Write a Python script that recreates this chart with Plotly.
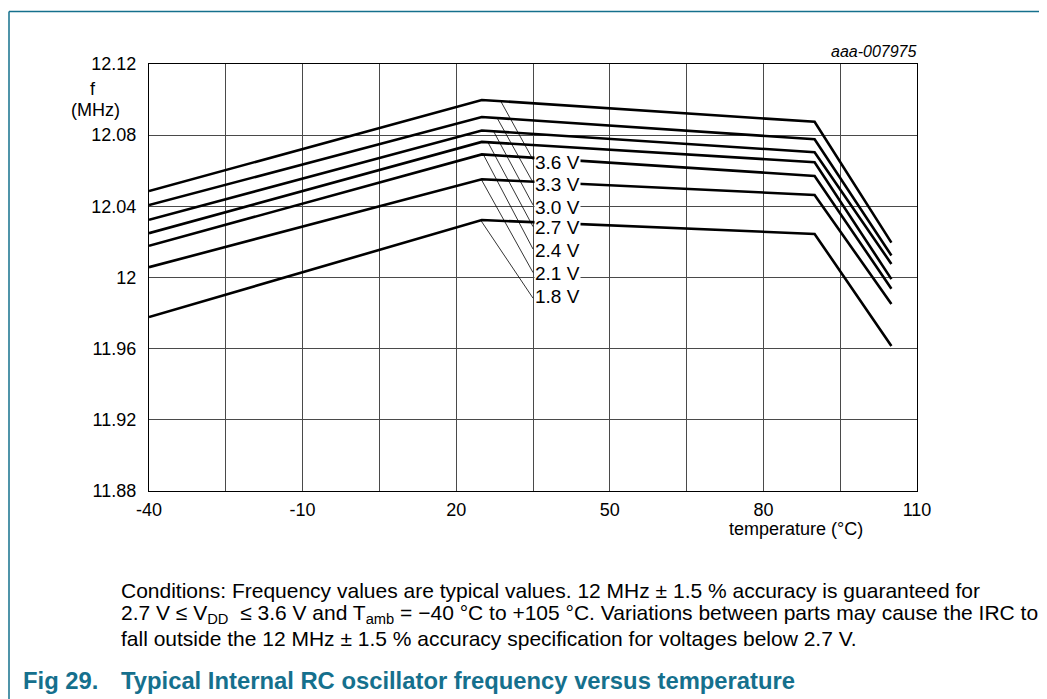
import numpy as np
import plotly.graph_objects as go

# ---------------- data ----------------
temps = [-40, 25, 90, 105]
voltages = ["3.6 V", "3.3 V", "3.0 V", "2.7 V", "2.4 V", "2.1 V", "1.8 V"]
f_36 = [12.0486, 12.0998, 12.0875, 12.0196]
f_33 = [12.0407, 12.0902, 12.0777, 12.0124]
f_30 = [12.0324, 12.0826, 12.0704, 12.0076]
f_27 = [12.0249, 12.0762, 12.0648, 11.9991]
f_24 = [12.0178, 12.0692, 12.0571, 11.9937]
f_21 = [12.0058, 12.0552, 12.0464, 11.9851]
f_18 = [11.9778, 12.0323, 12.0245, 11.9615]
series = [f_36, f_33, f_30, f_27, f_24, f_21, f_18]

# label callouts (label at T=35, leader from curve)
label_temp = 35
label_f = [12.0648, 12.0521, 12.0396, 12.0282, 12.0151, 12.0020, 11.9893]
leader_start_temp = [28.7, 28.0, 27.3, 26.2, 25.3, 24.9, 24.8]
leader_end_f = [12.0662, 12.0534, 12.0408, 12.0286, 12.0160, 12.0028, 11.9884]

x_tickvals = [-40, -10, 20, 50, 80, 110]
x_ticktext = ["-40", "-10", "20", "50", "80", "110"]
y_tickvals = [11.88, 11.92, 11.96, 12.0, 12.04, 12.08, 12.12]
y_ticktext = ["11.88", "11.92", "11.96", "12", "12.04", "12.08", "12.12"]

# ---------------- layout geometry (screen pixels) ----------------
W, H = 1047, 699
OFF = 8  # page body margin
L, R, T, B = 149, 917, 64, 491
PW, PH = R - L, B - T
FW, FH = W - OFF, H - OFF


def px(xp):
    return (xp - L) / PW


def py(yp):
    return (B - yp) / PH


FONT = "Liberation Sans, Arial, Helvetica, sans-serif"
TEAL = "#15708d"

fig = go.Figure()

for vals in series:
    fig.add_trace(go.Scatter(x=temps, y=vals, mode="lines",
                             line=dict(color="black", width=2.6),
                             hoverinfo="skip", showlegend=False))

for i, vals in enumerate(series):
    ys = float(np.interp(leader_start_temp[i], temps, vals))
    fig.add_trace(go.Scatter(x=[leader_start_temp[i], label_temp],
                             y=[ys, leader_end_f[i]], mode="lines",
                             line=dict(color="black", width=0.8),
                             hoverinfo="skip", showlegend=False))

annotations = []
for v, yv in zip(voltages, label_f):
    annotations.append(dict(x=label_temp, y=yv, xref="x", yref="y", text=v,
                            showarrow=False, xanchor="left", yanchor="middle",
                            xshift=1, bgcolor="white", borderpad=0,
                            font=dict(family=FONT, size=19, color="black")))

annotations += [
    dict(x=px(92.5), y=py(89), xref="paper", yref="paper", text="f",
         showarrow=False, xanchor="center", yanchor="middle",
         font=dict(family=FONT, size=18, color="black")),
    dict(x=px(95.7), y=py(110), xref="paper", yref="paper", text="(MHz)",
         showarrow=False, xanchor="center", yanchor="middle",
         font=dict(family=FONT, size=18, color="black")),
    dict(x=px(796), y=py(529), xref="paper", yref="paper", text="temperature (°C)",
         showarrow=False, xanchor="center", yanchor="middle",
         font=dict(family=FONT, size=18, color="black")),
    dict(x=px(919), y=py(52), xref="paper", yref="paper", text="<i>aaa-007975</i>",
         showarrow=False, xanchor="right", yanchor="middle",
         font=dict(family=FONT, size=16, color="black")),
    dict(x=px(119), y=py(590), xref="paper", yref="paper",
         text="Conditions: Frequency values are typical values. 12 MHz ± 1.5 % accuracy is guaranteed for",
         showarrow=False, xanchor="left", yanchor="middle",
         font=dict(family=FONT, size=21, color="black")),
    dict(x=px(119), y=py(614), xref="paper", yref="paper",
         text="2.7 V ≤ V<sub>DD</sub>  ≤ 3.6 V and T<sub>amb</sub> = −40 °C to +105 °C. Variations between parts may cause the IRC to",
         showarrow=False, xanchor="left", yanchor="middle",
         font=dict(family=FONT, size=21, color="black")),
    dict(x=px(119), y=py(638), xref="paper", yref="paper",
         text="fall outside the 12 MHz ± 1.5 % accuracy specification for voltages below 2.7 V.",
         showarrow=False, xanchor="left", yanchor="middle",
         font=dict(family=FONT, size=21, color="black")),
    dict(x=px(21), y=py(680), xref="paper", yref="paper", text="<b>Fig 29.</b>",
         showarrow=False, xanchor="left", yanchor="middle",
         font=dict(family=FONT, size=23.8, color=TEAL)),
    dict(x=px(119), y=py(680), xref="paper", yref="paper",
         text="<b>Typical Internal RC oscillator frequency versus temperature</b>",
         showarrow=False, xanchor="left", yanchor="middle",
         font=dict(family=FONT, size=23.8, color=TEAL)),
]

shapes = [
    dict(type="line", xref="paper", yref="paper", x0=px(9), x1=px(1047),
         y0=py(11.5), y1=py(11.5), line=dict(color=TEAL, width=1.5)),
    dict(type="line", xref="paper", yref="paper", x0=px(9), x1=px(9),
         y0=py(11.5), y1=py(699), line=dict(color=TEAL, width=1.5)),
]

fig.update_layout(
    width=FW, height=FH,
    margin=dict(l=L - OFF, r=FW - (R - OFF), t=T - OFF, b=FH - (B - OFF), pad=0),
    paper_bgcolor="white", plot_bgcolor="white",
    showlegend=False,
    annotations=annotations, shapes=shapes,
    font=dict(family=FONT, size=18, color="black"),
)

fig.update_xaxes(range=[-40, 110], tickvals=x_tickvals, ticktext=x_ticktext,
                 showgrid=True, gridcolor="#4a4a4a", gridwidth=1,
                 minor=dict(tick0=-40, dtick=15, showgrid=True, gridcolor="#4a4a4a", gridwidth=1),
                 showline=True, linecolor="black", linewidth=1.2, mirror=True,
                 ticks="outside", ticklen=2, tickcolor="rgba(0,0,0,0)",
                 tickfont=dict(family=FONT, size=18, color="black"),
                 zeroline=False, fixedrange=True)
fig.update_yaxes(range=[11.88, 12.12], tickvals=y_tickvals, ticktext=y_ticktext,
                 showgrid=True, gridcolor="#4a4a4a", gridwidth=1,
                 showline=True, linecolor="black", linewidth=1.2, mirror=True,
                 ticks="outside", ticklen=8, tickcolor="rgba(0,0,0,0)",
                 tickfont=dict(family=FONT, size=18, color="black"),
                 zeroline=False, fixedrange=True)

fig.write_html("out.html", config={"displayModeBar": False})
